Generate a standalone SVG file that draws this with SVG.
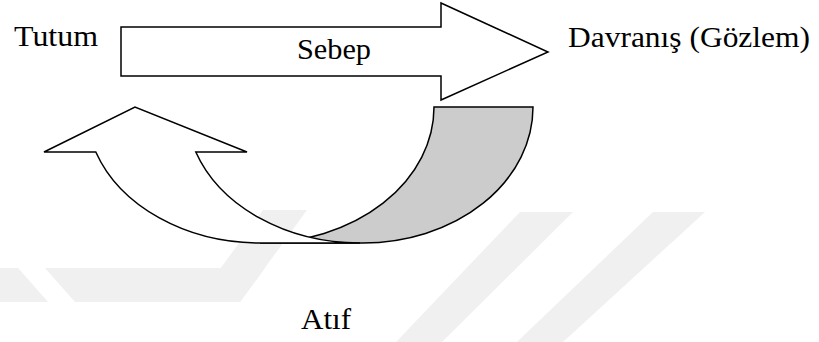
<svg xmlns="http://www.w3.org/2000/svg" width="819" height="342" viewBox="0 0 819 342">
  <style>
    .shape { stroke: #000; stroke-width: 1.5; stroke-linejoin: miter; }
    .wm { fill: #f0f0f0; stroke: none; }
    .lbl { font-family: "Liberation Serif", serif; font-size: 29px; fill: #000; }
  </style>
  <rect x="0" y="0" width="819" height="342" fill="#ffffff"/>
  <g id="watermark">
    <polygon class="wm" points="520,212 573,212 442,342 396,342"/>
    <polygon class="wm" points="653,212 705,212 563,342 517,342"/>
    <polygon class="wm" points="263,210 307,210 240,302 196,302"/>
    <polygon class="wm" points="45,268 265,268 240,302 75,302"/>
    <polygon class="wm" points="0,268 18,268 48,302 0,302"/>
    <rect x="0" y="302" width="392" height="37" fill="#ffffff"/>
  </g>
  <g id="connectors">
    <g id="atif-arrow">
      <path class="shape" fill="#cccccc" d="M434,107 L533,107 A170,136 0 0 1 363,243 L260,243 A174,136 0 0 0 434,107 Z"/>
      <path class="shape" fill="#ffffff" d="M260,243 A174,136 0 0 1 95.8,152 L44,152 L135,107 L247,152 L195.8,152 A174,136 0 0 0 360,243 Z"/>
    </g>
    <g id="sebep-arrow">
      <polygon class="shape" fill="#ffffff" points="121,27 441,27 441,3 548,52 441,100 441,76 121,76"/>
      <text class="lbl" x="297" y="59" textLength="74" lengthAdjust="spacingAndGlyphs">Sebep</text>
    </g>
  </g>
  <g id="tutum">
    <text class="lbl" x="14" y="46" textLength="84" lengthAdjust="spacingAndGlyphs">Tutum</text>
  </g>
  <g id="davranis">
    <text class="lbl" x="568" y="47" textLength="242" lengthAdjust="spacingAndGlyphs">Davranış (Gözlem)</text>
  </g>
  <g id="atif">
    <text class="lbl" x="301" y="329" textLength="50" lengthAdjust="spacingAndGlyphs">Atıf</text>
  </g>
</svg>
